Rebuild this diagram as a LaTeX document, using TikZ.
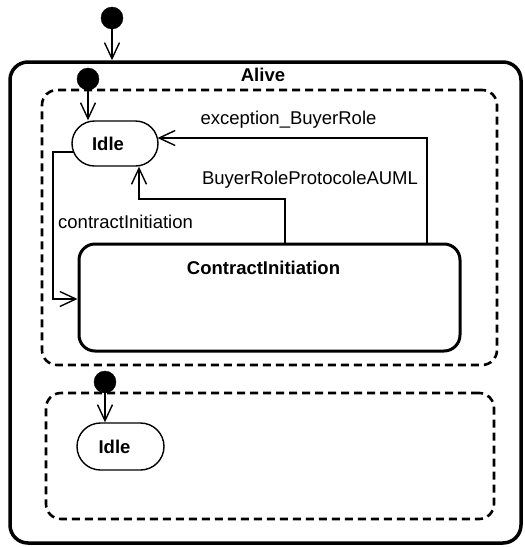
\documentclass[tikz,border=0pt]{standalone}
\usepackage{fontspec}
\setmainfont{Liberation Sans}
\usetikzlibrary{arrows.meta,shapes.misc,calc}
\begin{document}
\begin{tikzpicture}[x=1pt,y=-1pt,
  every node/.style={font=\fontsize{18.5}{22}\selectfont},
  tr/.style={line width=1.4pt,-{Straight Barb[length=16pt,width=15pt,line width=1.4pt]}},
  initdot/.style={circle,fill=black,draw=black,minimum size=22pt,inner sep=0pt},
  statebox/.style={rounded rectangle,draw,line width=1.4pt,inner sep=0pt},
  region/.style={draw,line width=2.6pt,dash pattern=on 8pt off 5pt,rounded corners=15pt,inner sep=0pt},
  lbl/.style={inner sep=0pt}]
\useasboundingbox (0,0) rectangle (525,547);
% outer state
\node[draw,line width=3.5pt,rounded corners=18pt,inner sep=0pt,minimum width=511pt,minimum height=481pt] (alive) at (265.5,302.5) {};
\node[lbl,font=\fontsize{18.5}{22}\selectfont\bfseries] (alivet) at (263,75) {Alive};
% regions
\node[region,minimum width=455pt,minimum height=275pt] (reg1) at (269.5,227.5) {};
\node[region,minimum width=448pt,minimum height=126pt] (reg2) at (270,456) {};
% states
\node[statebox,minimum width=86pt,minimum height=45pt,label={[lbl,xshift=-7pt]center:\textbf{Idle}}] (idle1) at (115,143.5) {};
\node[statebox,minimum width=87pt,minimum height=47pt,label={[lbl,xshift=-6pt]center:\textbf{Idle}}] (idle2) at (120.5,446.5) {};
\node[draw,line width=3pt,rounded corners=16pt,inner sep=0pt,minimum width=381pt,minimum height=107pt] (ci) at (269.5,297.5) {};
\node[lbl,font=\fontsize{18.5}{22}\selectfont\bfseries] (cit) at (263.5,268) {ContractInitiation};
% initial pseudo-states
\node[initdot] (init0) at (112,18) {};
\node[initdot] (init1) at (88,79) {};
\node[initdot] (init2) at (105,382) {};
% initial transitions
\draw[tr] (init0) -- (init0 |- alive.north);
\draw[tr] (init1) -- (init1 |- idle1.north);
\draw[tr] (init2) -- (init2 |- idle2.north);
% exception_BuyerRole
\coordinate (ex1) at (427,138);
\coordinate (ex2) at (157.5,138);
\draw[tr] (ex1 |- ci.north) -- (ex1) -- (ex2);
\node[lbl] (ext) at (288.5,120) {exception\_BuyerRole};
% BuyerRoleProtocoleAUML
\coordinate (bp1) at (285,199);
\coordinate (bp2) at (139,199);
\draw[tr] (bp1 |- ci.north) -- (bp1) -- (bp2) -- (bp2 |- idle1.south);
\node[lbl] (bpt) at (310,180) {BuyerRoleProtocoleAUML};
% contractInitiation
\coordinate (cs) at (73.7,152);
\coordinate (c1) at (53,152);
\coordinate (c2) at (53,299);
\draw[tr] (cs) -- (c1) -- (c2) -- (c2 -| ci.west);
\node[lbl,anchor=west] (cst) at (58,222) {contractInitiation};
\end{tikzpicture}
\end{document}
